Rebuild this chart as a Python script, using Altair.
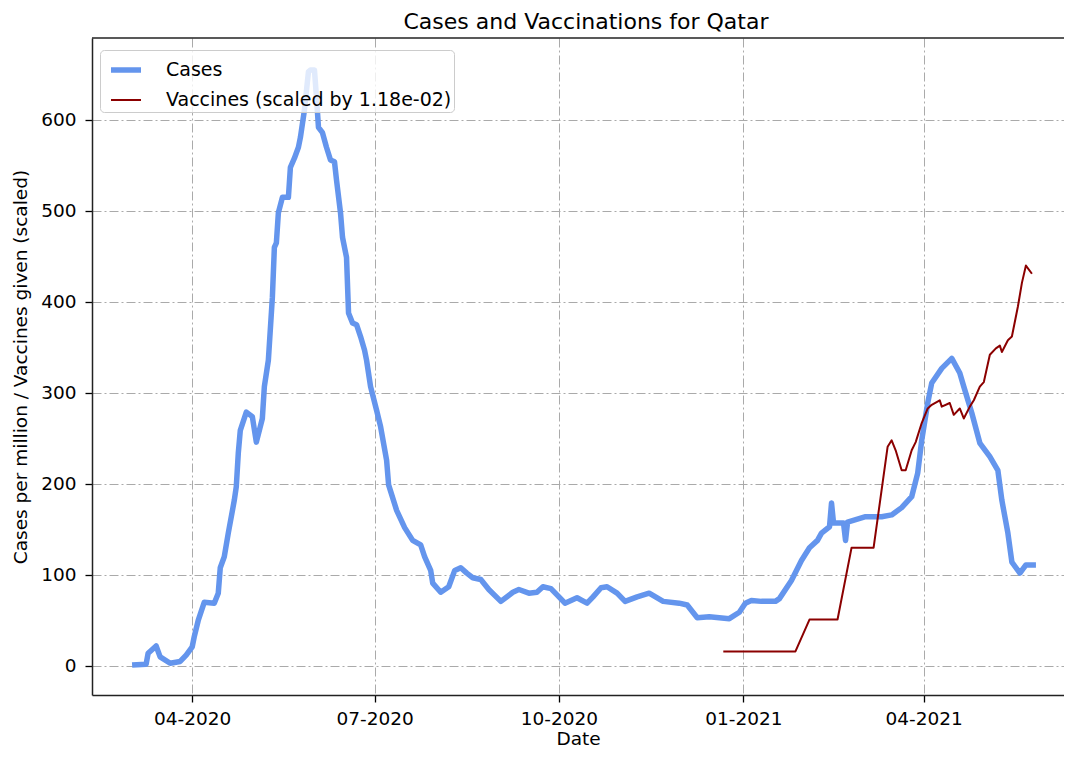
import altair as alt
import pandas as pd

CASES_LABEL = "Cases"
VACC_LABEL = "Vaccines (scaled by 1.18e-02)"

case_dates = [
    "2020-03-02", "2020-03-09", "2020-03-10", "2020-03-14", "2020-03-16", "2020-03-21",
    "2020-03-26", "2020-03-29", "2020-04-01", "2020-04-02", "2020-04-04", "2020-04-07",
    "2020-04-12", "2020-04-14", "2020-04-15", "2020-04-17", "2020-04-19", "2020-04-22",
    "2020-04-23", "2020-04-24", "2020-04-25", "2020-04-28", "2020-05-01", "2020-05-03",
    "2020-05-06", "2020-05-07", "2020-05-09", "2020-05-11", "2020-05-12", "2020-05-13",
    "2020-05-14", "2020-05-16", "2020-05-19", "2020-05-20", "2020-05-22", "2020-05-24",
    "2020-05-25", "2020-05-27", "2020-05-29", "2020-05-30", "2020-06-01", "2020-06-02",
    "2020-06-03", "2020-06-05", "2020-06-07", "2020-06-09", "2020-06-11", "2020-06-12",
    "2020-06-14", "2020-06-15", "2020-06-17", "2020-06-18", "2020-06-20", "2020-06-22",
    "2020-06-24", "2020-06-26", "2020-06-27", "2020-06-29", "2020-07-02", "2020-07-04",
    "2020-07-07", "2020-07-08", "2020-07-12", "2020-07-16", "2020-07-20", "2020-07-24",
    "2020-07-26", "2020-07-29", "2020-07-30", "2020-08-03", "2020-08-07", "2020-08-10",
    "2020-08-13", "2020-08-16", "2020-08-19", "2020-08-23", "2020-08-27", "2020-09-02",
    "2020-09-08", "2020-09-11", "2020-09-16", "2020-09-20", "2020-09-23", "2020-09-27",
    "2020-10-01", "2020-10-04", "2020-10-10", "2020-10-15", "2020-10-18", "2020-10-22",
    "2020-10-25", "2020-10-30", "2020-11-03", "2020-11-09", "2020-11-15", "2020-11-22",
    "2020-11-30", "2020-12-04", "2020-12-09", "2020-12-15", "2020-12-25", "2020-12-30",
    "2021-01-02", "2021-01-05", "2021-01-10", "2021-01-17", "2021-01-19", "2021-01-25",
    "2021-01-30", "2021-02-03", "2021-02-07", "2021-02-09", "2021-02-13", "2021-02-14",
    "2021-02-15", "2021-02-20", "2021-02-21", "2021-02-22", "2021-03-03", "2021-03-11",
    "2021-03-16", "2021-03-21", "2021-03-26", "2021-03-29", "2021-03-31", "2021-04-03",
    "2021-04-05", "2021-04-10", "2021-04-15", "2021-04-19", "2021-04-21", "2021-04-25",
    "2021-04-29", "2021-05-04", "2021-05-08", "2021-05-10", "2021-05-13", "2021-05-15",
    "2021-05-19", "2021-05-22", "2021-05-27",
]
case_values = [
    1, 2, 14, 22, 10, 3,
    5, 12, 21, 32, 50, 70,
    69, 80, 108, 120, 146, 182,
    197, 234, 259, 279, 274, 246,
    272, 307, 336, 405, 460, 465,
    498, 515, 515, 548, 558, 570,
    581, 611, 653, 655, 655, 625,
    592, 586, 570, 556, 554, 534,
    498, 471, 449, 388, 377, 375,
    362, 347, 336, 307, 281, 263,
    226, 199, 171, 152, 138, 133,
    120, 105, 91, 81, 87, 105,
    108, 102, 97, 95, 84, 71,
    81, 84, 80, 81, 87, 85,
    76, 69, 75, 69, 76, 86,
    87, 80, 71, 76, 80, 71,
    69, 67, 53, 54, 52, 59,
    69, 72, 71, 71, 74, 94,
    116, 130, 138, 146, 153, 179,
    157, 157, 138, 158, 164, 164,
    166, 174, 186, 212, 248, 289,
    311, 327, 338, 322, 307, 278,
    245, 230, 215, 182, 146, 114,
    102, 111, 111,
]

vacc_dates = [
    "2020-12-22", "2021-01-27", "2021-02-03", "2021-02-17", "2021-02-24", "2021-03-07",
    "2021-03-14", "2021-03-16", "2021-03-18", "2021-03-21", "2021-03-23", "2021-03-26",
    "2021-03-28", "2021-03-31", "2021-04-03", "2021-04-05", "2021-04-09", "2021-04-10",
    "2021-04-14", "2021-04-16", "2021-04-19", "2021-04-21", "2021-04-24", "2021-04-26",
    "2021-04-29", "2021-05-01", "2021-05-04", "2021-05-07", "2021-05-09", "2021-05-10",
    "2021-05-13", "2021-05-15", "2021-05-18", "2021-05-20", "2021-05-22", "2021-05-25",
]
vacc_values = [
    16, 16, 51, 51, 130, 130,
    241, 248, 237, 215, 215, 237,
    246, 267, 283, 287, 292, 285,
    289, 276, 283, 272, 285, 292,
    307, 312, 342, 349, 352, 345,
    358, 362, 395, 421, 440, 431,
]

y_ticks = [0, 100, 200, 300, 400, 500, 600]
x_tick_months = [(2020, 4), (2020, 7), (2020, 10), (2021, 1), (2021, 4)]

df = pd.concat([
    pd.DataFrame({"date": case_dates, "value": case_values, "series": CASES_LABEL}),
    pd.DataFrame({"date": vacc_dates, "value": vacc_values, "series": VACC_LABEL}),
], ignore_index=True)

FONT = "DejaVu Sans"
PLOT_W = 972
PLOT_H = 657
FRAME = "#222222"

x_enc = alt.X(
    "date:T",
    scale=alt.Scale(
        type="utc",
        domain=[alt.DateTime(year=2020, month=2, date=11, utc=True),
                alt.DateTime(year=2021, month=6, date=10, utc=True)],
    ),
    axis=alt.Axis(
        values=[alt.DateTime(year=y, month=m, date=1, utc=True) for y, m in x_tick_months],
        labelExpr="utcFormat(datum.value, '%m-%Y')",
        title="Date",
        labelPadding=7,
        titlePadding=2,
        labelFlush=False,
    ),
)

y_enc = alt.Y(
    "value:Q",
    scale=alt.Scale(domain=[-31.9, 690.1], nice=False, zero=False),
    axis=alt.Axis(values=y_ticks, title="Cases per million / Vaccines given (scaled)",
                  labelPadding=9, titlePadding=10),
)

legend = alt.Legend(
    orient="none", legendX=8, legendY=12, title=None,
    symbolType="stroke", symbolSize=900, symbolOffset=6,
    labelFontSize=19, labelFont=FONT, labelColor="#000000",
    fillColor="rgba(255,255,255,0.8)", strokeColor="#cccccc",
    cornerRadius=4, padding=2, rowPadding=3,
    labelOffset=22, labelLimit=0,
)

lines = alt.Chart(df).mark_line(strokeJoin="round", strokeCap="butt").encode(
    x=x_enc,
    y=y_enc,
    color=alt.Color(
        "series:N",
        scale=alt.Scale(domain=[CASES_LABEL, VACC_LABEL], range=["#6495ED", "#8B0000"]),
        legend=legend,
    ),
    strokeWidth=alt.StrokeWidth(
        "series:N",
        scale=alt.Scale(domain=[CASES_LABEL, VACC_LABEL], range=[5.5, 2]),
        legend=legend,
    ),
    order=alt.Order("date:T"),
)

# top frame line (the right edge of the frame lies beyond the picture in the reference)
top_frame = alt.Chart(pd.DataFrame({"f": [0]})).mark_rule(
    color=FRAME, strokeWidth=1.5
).encode(x=alt.value(0), x2=alt.value(PLOT_W), y=alt.value(0))

chart = alt.layer(lines, top_frame).properties(
    width=PLOT_W,
    height=PLOT_H,
    title=alt.TitleParams(
        "Cases and Vaccinations for Qatar", fontSize=22, font=FONT,
        fontWeight="normal", anchor="middle", frame="group", offset=3, dx=8,
        color="#000000",
    ),
    autosize=alt.AutoSizeParams(type="none"),
    padding={"left": 84, "top": 30, "right": 0, "bottom": 55},
).configure_view(
    stroke=None,
).configure_axis(
    domain=True,
    domainColor=FRAME,
    domainWidth=1.5,
    grid=True,
    gridColor="#aaaaaa",
    gridDash=[9, 3, 2, 3],
    gridWidth=1,
    tickColor="#000000",
    tickSize=7,
    tickWidth=1.3,
    labelFont=FONT,
    labelFontSize=18.5,
    labelColor="#000000",
    titleFont=FONT,
    titleFontSize=18.5,
    titleFontWeight="normal",
    titleColor="#000000",
)

chart.save("out.html", embed_options={"renderer": "svg", "actions": False})
